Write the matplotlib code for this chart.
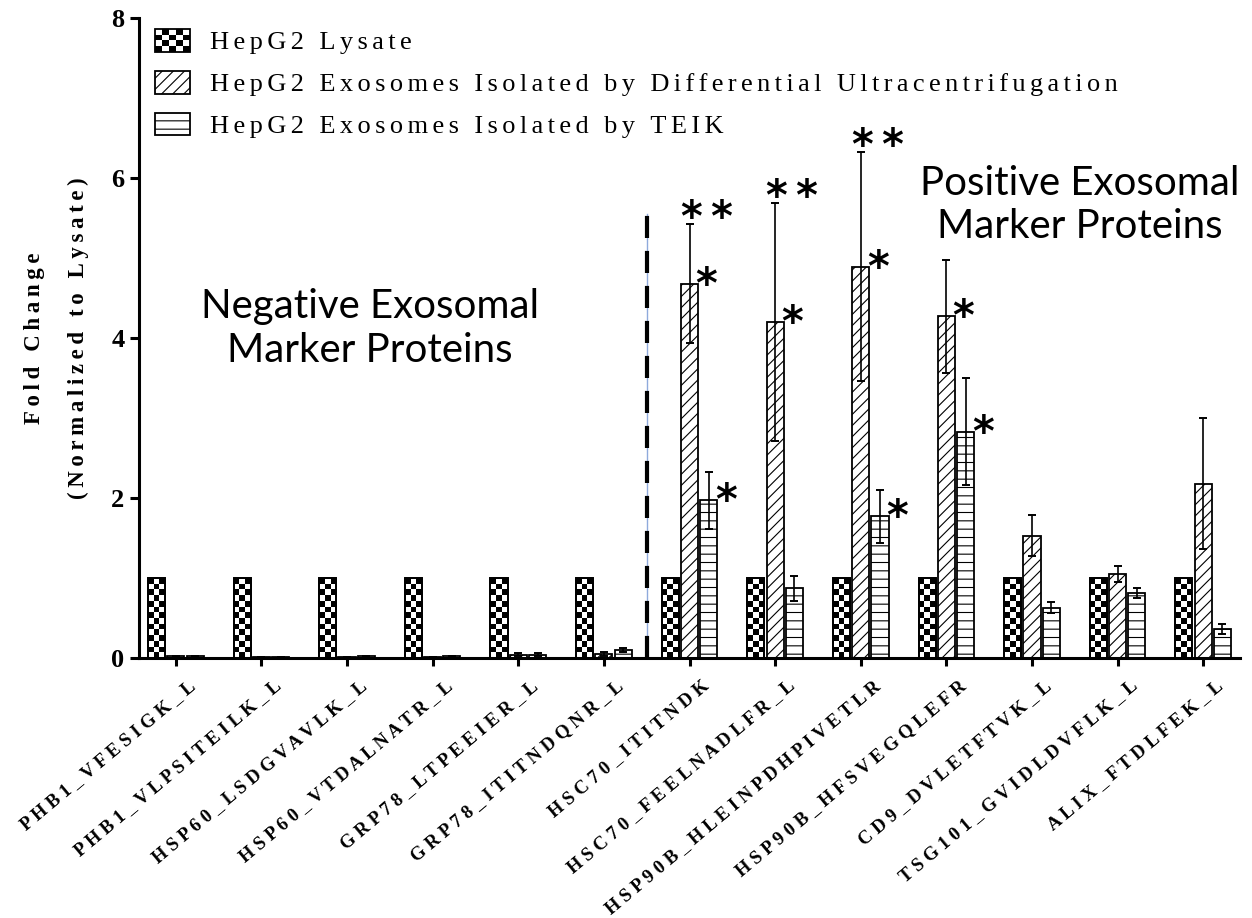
import matplotlib
matplotlib.use("Agg")
import matplotlib.pyplot as plt
import matplotlib.transforms as mtransforms
from matplotlib.patches import Rectangle
from matplotlib.collections import PatchCollection
from matplotlib.legend_handler import HandlerBase

# ---------------- data ----------------
peptides = [
    "PHB1_VFESIGK_L", "PHB1_VLPSITEILK_L", "HSP60_LSDGVAVLK_L",
    "HSP60_VTDALNATR_L", "GRP78_LTPEEIER_L", "GRP78_ITITNDQNR_L",
    "HSC70_ITITNDK", "HSC70_FEELNADLFR_L", "HSP90B_HLEINPDHPIVETLR",
    "HSP90B_HFSVEGQLEFR", "CD9_DVLETFTVK_L", "TSG101_GVIDLDVFLK_L",
    "ALIX_FTDLFEK_L",
]
series_names = [
    "HepG2 Lysate",
    "HepG2 Exosomes Isolated by Differential Ultracentrifugation",
    "HepG2 Exosomes Isolated by TEIK",
]
lysate = [1.0] * 13
du_mean = [0.02, 0.01, 0.01, 0.01, 0.04, 0.05, 4.68, 4.20, 4.89, 4.27, 1.53, 1.05, 2.18]
du_err = [0.01, 0.005, 0.005, 0.005, 0.02, 0.025, 0.74, 1.49, 1.43, 0.71, 0.26, 0.10, 0.82]
teik_mean = [0.02, 0.01, 0.02, 0.02, 0.04, 0.10, 1.97, 0.87, 1.77, 2.83, 0.63, 0.81, 0.36]
teik_err = [0.01, 0.005, 0.01, 0.01, 0.02, 0.025, 0.36, 0.16, 0.33, 0.67, 0.07, 0.065, 0.06]

# significance marks: (peptide index, series, placed above 'bar' or 'err', text)
sig_marks = [
    (6, "du", "err", "**"), (6, "du", "bar", "*"), (6, "teik", "bar", "*"),
    (7, "du", "err", "**"), (7, "du", "bar", "*"),
    (8, "du", "err", "**"), (8, "du", "bar", "*"), (8, "teik", "bar", "*"),
    (9, "du", "bar", "*"), (9, "teik", "bar", "*"),
]
n_negative = 6
region_labels = ["Negative Exosomal\nMarker Proteins", "Positive Exosomal\nMarker Proteins"]

# ---------------- style ----------------
SERIF = ["Liberation Serif", "DejaVu Serif"]
THIN = "\u2009"
SIXTH = "\u2006"
plt.rcParams["hatch.linewidth"] = 0.8
plt.rcParams["hatch.color"] = "black"


def spaced(s, gap=" "):
    """Letter-spaced string: a gap between letters, a wider one between words."""
    return (gap + " " + gap).join(gap.join(w) for w in s.split(" "))


fig = plt.figure(figsize=(12.52, 9.18), dpi=100)
W, H = 1252, 918
ax = fig.add_axes([139 / W, 1 - 658 / H, (1240 - 139) / W, (658 - 18) / H])

x = list(range(len(peptides)))
bw = 0.2
off = 0.225
xl = [i - off for i in x]
xd = [i for i in x]
xt = [i + off for i in x]

edge_kw = dict(edgecolor="black", linewidth=1.3, facecolor="white")
b_lys = ax.bar(xl, lysate, bw, zorder=2, **edge_kw)
b_du = ax.bar(xd, du_mean, bw, hatch="///", zorder=2, **edge_kw)
b_te = ax.bar(xt, teik_mean, bw, hatch="--", zorder=2, **edge_kw)

# checkerboard fill for lysate bars
squares = []
for rect in b_lys:
    x0, w, h = rect.get_x(), rect.get_width(), rect.get_height()
    ncol, nrow = 3, 14
    sw, sh = w / ncol, h / nrow
    for i in range(nrow):
        for j in range(ncol):
            if (i + j) % 2 == 1:
                squares.append(Rectangle((x0 + j * sw, i * sh), sw, sh))
ax.add_collection(PatchCollection(squares, facecolor="black", edgecolor="none", zorder=2.5))
for rect in b_lys:
    ax.add_patch(Rectangle((rect.get_x(), 0), rect.get_width(), rect.get_height(),
                           fill=False, edgecolor="black", linewidth=1.3, zorder=2.6))

err_kw = dict(fmt="none", ecolor="black", elinewidth=1.2, capsize=3, capthick=1.4, zorder=3)
ax.errorbar(xd, du_mean, yerr=du_err, **err_kw)
ax.errorbar(xt, teik_mean, yerr=teik_err, **err_kw)

# divider between negative and positive markers
xdiv = n_negative - 0.5
ax.plot([xdiv, xdiv], [0, 5.55], color="#8faadc", lw=1.0, zorder=1)
ax.plot([xdiv, xdiv], [0, 5.55], color="black", lw=3.0, dashes=(5.3, 3.1), zorder=1.5,
        solid_capstyle="butt", dash_capstyle="butt")

# significance asterisks
pos = {"du": xd, "teik": xt}
mean = {"du": du_mean, "teik": teik_mean}
err = {"du": du_err, "teik": teik_err}
for gi, s, where, txt in sig_marks:
    xv = pos[s][gi]
    yv = mean[s][gi] + (err[s][gi] if where == "err" else 0)
    dy_px = 17 if where == "err" else 10
    ax.annotate(txt.replace("**", "*" + THIN + "*"), xy=(xv, yv),
                xytext=(17 * 0.72, (dy_px - 24) * 0.72),
                textcoords="offset points", ha="center", va="baseline",
                fontsize=30, fontweight="bold", family="DejaVu Sans", zorder=4)

# region captions
ax.text(2.27, 4.12, region_labels[0], ha="center", va="center", fontsize=29,
        family="Lato", linespacing=1.25, multialignment="center")
ax.text(10.56, 5.66, region_labels[1], ha="center", va="center", fontsize=29,
        family="Lato", linespacing=1.2, multialignment="center")

# axes
ax.set_xlim(-0.43, 12.43)
ax.set_ylim(0, 8)
ax.set_yticks([0, 2, 4, 6, 8])
for side in ("top", "right"):
    ax.spines[side].set_visible(False)
for side in ("left", "bottom"):
    ax.spines[side].set_linewidth(2.2)
ax.tick_params(axis="y", length=6.5, width=2.2, pad=4)
ax.tick_params(axis="x", length=5.8, width=2.2, pad=8)
for lab in ax.get_yticklabels():
    lab.set_fontfamily(SERIF)
    lab.set_fontweight("bold")
    lab.set_fontsize(19)
ax.set_xticks(x)
ax.set_xticklabels([spaced(p) for p in peptides], rotation=40, ha="right", va="top",
                   rotation_mode="anchor", fontsize=13.5, fontweight="bold", family=SERIF)
shift = mtransforms.ScaledTranslation(12 / 100, 0, fig.dpi_scale_trans)
for lab in ax.get_xticklabels():
    lab.set_transform(lab.get_transform() + shift)

ax.set_ylabel(spaced("Fold Change", THIN) + "\n" + spaced("(Normalized to Lysate)", THIN),
              fontsize=16.5, fontweight="bold", family=SERIF, linespacing=2.4,
              ha="center", va="center", multialignment="center")
ax.yaxis.set_label_coords((56.5 - 139) / (1240 - 139), 0.5)


# legend with a checkerboard swatch for the lysate series
class CheckerHandler(HandlerBase):
    def create_artists(self, legend, orig_handle, xdescent, ydescent, width, height,
                       fontsize, trans):
        arts = []
        ncol, nrow = 5, 4
        sw, sh = width / ncol, height / nrow
        for i in range(nrow):
            for j in range(ncol):
                if (i + j) % 2 == 0:
                    arts.append(Rectangle((-xdescent + j * sw, -ydescent + i * sh), sw, sh,
                                          facecolor="black", edgecolor="none", transform=trans))
        arts.append(Rectangle((-xdescent, -ydescent), width, height, facecolor="none",
                              edgecolor="black", linewidth=1.3, transform=trans))
        return arts


h_lys = Rectangle((0, 0), 1, 1, facecolor="white", edgecolor="black", linewidth=1.3)
h_du = Rectangle((0, 0), 1, 1, facecolor="white", edgecolor="black", linewidth=1.3, hatch="///")
h_te = Rectangle((0, 0), 1, 1, facecolor="white", edgecolor="black", linewidth=1.3, hatch="--")
fs_leg = 19
fs_px = fs_leg / 0.72
leg = ax.legend([h_lys, h_du, h_te], [spaced(s, SIXTH) for s in series_names],
                handler_map={h_lys: CheckerHandler()},
                loc="upper left", bbox_to_anchor=(155 / W, 1 - 29 / H),
                bbox_transform=fig.transFigure, frameon=False, borderpad=0,
                borderaxespad=0, handlelength=35 / fs_px, handleheight=25 / fs_px,
                handletextpad=20 / fs_px, labelspacing=0.62,
                prop={"family": SERIF, "size": fs_leg})

fig.savefig("out.png", dpi=100)
